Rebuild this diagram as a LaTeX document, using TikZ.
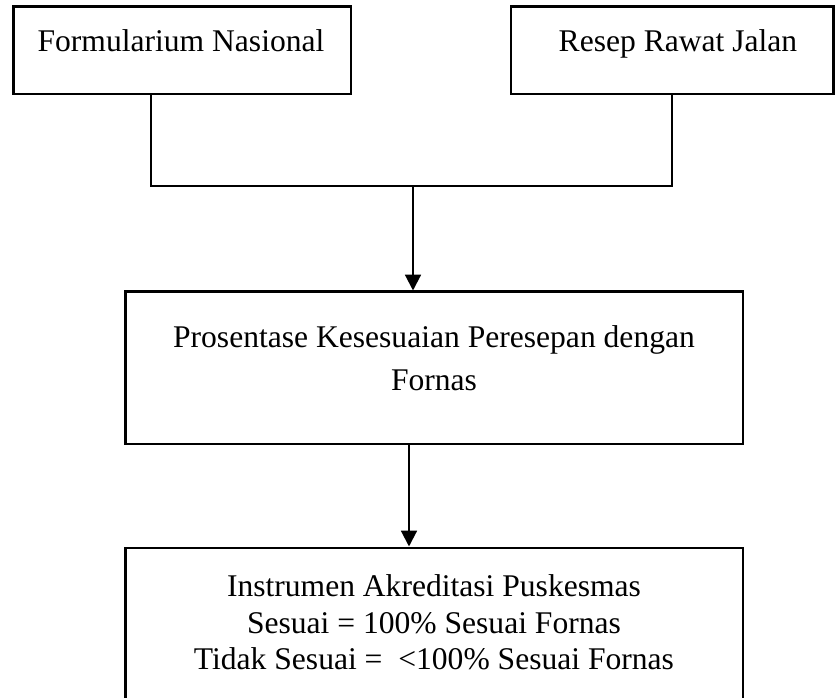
\documentclass[tikz,border=0pt]{standalone}
\usepackage{fontspec}
\setmainfont{Liberation Serif}
\usetikzlibrary{arrows.meta}

\begin{document}
\begin{tikzpicture}[x=0.38pt, y=-0.38pt,
    box/.style={draw, line width=1.1pt, inner sep=0pt},
    txt/.style={anchor=base, align=center, inner sep=0pt},
    link/.style={line width=0.45pt},
    arr/.style={line width=0.8pt, -{Triangle[length=6pt, width=6pt]}}]
    \useasboundingbox (0,0) rectangle (835,698);
    \node[box, minimum width=128.4pt, minimum height=33.1pt] (fornas) at (182, 50.5) {};
    \node[box, minimum width=122.4pt, minimum height=33.1pt] (resep) at (672, 50.5) {};
    \node[box, minimum width=234.8pt, minimum height=57.8pt] (prosen) at (434, 368) {};
    \node[box, minimum width=234.8pt, minimum height=65.4pt] (instr) at (434, 634) {};
    % base anchor sits on the last line
    \node[txt, font=\fontsize{12}{14}\selectfont] (fornastxt) at (181, 52) {Formularium Nasional};
    \node[txt, font=\fontsize{12}{14}\selectfont] (reseptxt) at (678, 52) {Resep Rawat Jalan};
    \node[txt, font=\fontsize{12}{16.7}\selectfont] (prosentxt) at (434, 391) {Prosentase Kesesuaian Peresepan dengan\\Fornas};
    \node[txt, font=\fontsize{12}{13.9}\selectfont] (instrtxt) at (434, 670) {Instrumen Akreditasi Puskesmas\\Sesuai = 100\% Sesuai Fornas\\Tidak Sesuai = \ <100\% Sesuai Fornas};
    \coordinate (lj) at (151, 186);
    \coordinate (rj) at (672, 186);
    \coordinate (mj) at (413, 186);
    \coordinate (mk) at (409, 444);
    \draw[link] (fornas.south -| lj) -- (lj) -- (rj) -- (resep.south -| rj);
    \draw[arr] (mj) -- (mj |- prosen.north);
    \draw[arr] (prosen.south -| mk) -- (instr.north -| mk);
\end{tikzpicture}
\end{document}
